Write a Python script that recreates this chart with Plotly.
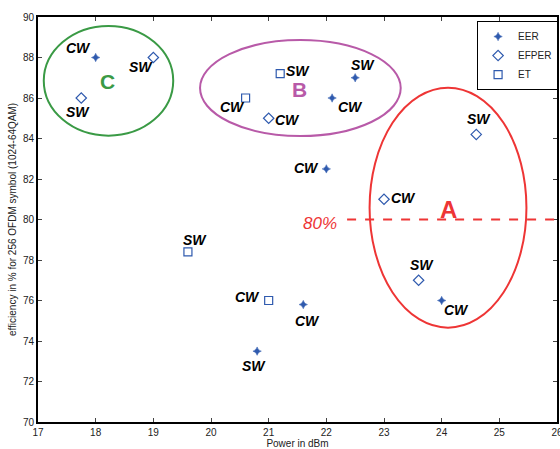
import plotly.graph_objects as go

# ---- data ----
eer_x = [18.0, 22.5, 22.1, 22.0, 21.6, 20.8, 24.0]
eer_y = [88.0, 87.0, 86.0, 82.5, 75.8, 73.5, 76.0]
eer_lab = ["CW", "SW", "CW", "CW", "CW", "SW", "CW"]
eer_off = [(-17, 10), (8, 13), (18, -9), (-20, 1), (4, -16), (-3, -15), (15, -9)]

efper_x = [17.75, 19.0, 21.0, 24.6, 23.0, 23.6]
efper_y = [86.0, 88.0, 85.0, 84.2, 81.0, 77.0]
efper_lab = ["SW", "SW", "CW", "SW", "CW", "SW"]
efper_off = [(-3, -14), (-12, -9), (19, -2), (3, 15), (19, 1), (3, 15)]

et_x = [21.2, 20.6, 19.6, 21.0]
et_y = [87.2, 86.0, 78.4, 76.0]
et_lab = ["SW", "CW", "SW", "CW"]
et_off = [(18, 3), (-13, -9), (7, 12), (-21, 4)]

groups = ["A", "B", "C"]
group_box = {  # x0, x1, y0, y1 (ellipse extents)
    "A": (22.75, 25.47, 74.66, 86.51),
    "B": (19.81, 23.29, 84.12, 88.86),
    "C": (17.10, 19.345, 84.14, 89.56),
}
group_label_pos = {"A": (24.11, 80.5), "B": (21.54, 86.43), "C": (18.21, 86.8)}
group_color = {"A": "#ee3535", "B": "#b85aa8", "C": "#3a9a45"}
group_size = {"A": 24, "B": 21, "C": 21}

threshold = 80
threshold_x = [22.36, 26.0]
threshold_label = "80%"

x_ticks = list(range(17, 27))
y_ticks = list(range(70, 91, 2))

blue = "#2f5aae"
font = "Liberation Sans, Arial, sans-serif"

fig = go.Figure()
fig.add_trace(go.Scatter(x=eer_x, y=eer_y, mode="markers", name="EER",
                         marker=dict(symbol="star-diamond", size=6, color=blue,
                                     line=dict(width=0.5, color=blue))))
fig.add_trace(go.Scatter(x=efper_x, y=efper_y, mode="markers", name="EFPER",
                         marker=dict(symbol="diamond-open", size=8, color=blue,
                                     line=dict(width=1.2))))
fig.add_trace(go.Scatter(x=et_x, y=et_y, mode="markers", name="ET",
                         marker=dict(symbol="square-open", size=8, color=blue,
                                     line=dict(width=1.2))))

annotations = []
for xs, ys, labs, offs in [(eer_x, eer_y, eer_lab, eer_off),
                           (efper_x, efper_y, efper_lab, efper_off),
                           (et_x, et_y, et_lab, et_off)]:
    for x, y, t, (dx, dy) in zip(xs, ys, labs, offs):
        annotations.append(dict(x=x, y=y, text="<b><i>%s</i></b>" % t, showarrow=False,
                                xshift=dx, yshift=dy,
                                font=dict(family=font, size=14, color="black")))

shapes = []
for g in groups:
    x0, x1, y0, y1 = group_box[g]
    shapes.append(dict(type="circle", xref="x", yref="y", x0=x0, x1=x1, y0=y0, y1=y1,
                       line=dict(color=group_color[g], width=2)))
    gx, gy = group_label_pos[g]
    annotations.append(dict(x=gx, y=gy, text="<b>%s</b>" % g, showarrow=False,
                            font=dict(family=font, size=group_size[g], color=group_color[g])))

shapes.append(dict(type="line", xref="x", yref="y", x0=threshold_x[0], x1=threshold_x[1],
                   y0=threshold, y1=threshold,
                   line=dict(color="#ee3535", width=2, dash="dash")))
annotations.append(dict(x=threshold_x[0], y=threshold, text="<i>%s</i>" % threshold_label,
                        showarrow=False, xanchor="right", xshift=-8, yshift=-4,
                        font=dict(family=font, size=17, color="#ee3535")))

fig.update_layout(
    width=560, height=449,
    margin=dict(l=38, r=3, t=17, b=27, autoexpand=False),
    paper_bgcolor="white", plot_bgcolor="white",
    font=dict(family=font, size=10, color="#222"),
    showlegend=True,
    legend=dict(x=0.846, y=0.99, xanchor="left", yanchor="top",
                bordercolor="black", borderwidth=1, bgcolor="white",
                font=dict(family=font, size=10, color="#222"),
                itemwidth=30, tracegroupgap=0),
    shapes=shapes, annotations=annotations,
)
fig.update_xaxes(range=[17, 26], tickvals=x_ticks, ticks="inside", ticklen=4,
                 showgrid=False, zeroline=False, showline=True, linecolor="black",
                 linewidth=2, mirror="ticks", tickfont=dict(size=10, color="#222"),
                 automargin=False, ticklabeloverflow="allow",
                 title=dict(text="Power in dBm", font=dict(size=10, color="#222"), standoff=2))
fig.update_yaxes(range=[70, 90], tickvals=y_ticks, ticks="inside", ticklen=4,
                 showgrid=False, zeroline=False, showline=True, linecolor="black",
                 linewidth=2, mirror="ticks", tickfont=dict(size=10, color="#222"),
                 automargin=False,
                 title=dict(text="efficiency in % for 256 OFDM symbol (1024-64QAM)",
                            font=dict(size=10, color="#222"), standoff=4))

fig.write_html("out.html", config={"displayModeBar": False},
               post_script="document.body.style.margin='0';document.body.style.padding='0';")
